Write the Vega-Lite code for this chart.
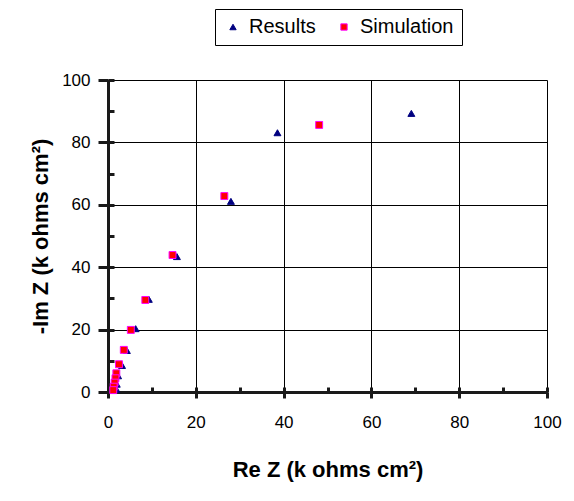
{
  "$schema": "https://vega.github.io/schema/vega-lite/v6.json",
  "width": 439,
  "height": 312,
  "autosize": "none",
  "padding": {"left": 108, "top": 80, "right": 27, "bottom": 109},
  "background": "white",
  "config": {"font": "Liberation Sans", "view": {"stroke": null}},
  "data": {
    "values": [
      {"series": "Results", "re": 69.1, "im": 89.3},
      {"series": "Results", "re": 38.6, "im": 83.1},
      {"series": "Results", "re": 28.0, "im": 61.1},
      {"series": "Results", "re": 15.7, "im": 43.4},
      {"series": "Results", "re": 9.3, "im": 29.7},
      {"series": "Results", "re": 6.3, "im": 20.3},
      {"series": "Results", "re": 4.3, "im": 13.3},
      {"series": "Results", "re": 3.2, "im": 8.5},
      {"series": "Results", "re": 2.3, "im": 5.2},
      {"series": "Results", "re": 2.0, "im": 2.5},
      {"series": "Results", "re": 1.9, "im": 0.9},
      {"series": "Simulation", "re": 48.1, "im": 85.6},
      {"series": "Simulation", "re": 26.5, "im": 62.8},
      {"series": "Simulation", "re": 14.7, "im": 43.9},
      {"series": "Simulation", "re": 8.5, "im": 29.5},
      {"series": "Simulation", "re": 5.2, "im": 19.9},
      {"series": "Simulation", "re": 3.6, "im": 13.5},
      {"series": "Simulation", "re": 2.5, "im": 8.9},
      {"series": "Simulation", "re": 1.9, "im": 6.0},
      {"series": "Simulation", "re": 1.7, "im": 4.4},
      {"series": "Simulation", "re": 1.5, "im": 3.0},
      {"series": "Simulation", "re": 1.3, "im": 1.7},
      {"series": "Simulation", "re": 1.2, "im": 0.6}
    ]
  },
  "resolve": {"axis": {"x": "independent", "y": "independent"}},
  "layer": [
    {
      "mark": {"type": "point", "filled": true, "strokeWidth": 1, "size": 48, "opacity": 1},
      "encoding": {
        "x": {
          "field": "re", "type": "quantitative",
          "scale": {"domain": [0, 100], "nice": false},
          "axis": {
            "orient": "bottom",
            "values": [0, 20, 40, 60, 80, 100],
            "format": "d",
            "grid": true, "gridColor": "#000000", "gridWidth": 1, "gridOpacity": 1,
            "domain": true, "domainColor": "#1a1a1a", "domainWidth": 3, "domainOpacity": 1,
            "ticks": true, "tickColor": "#1a1a1a", "tickWidth": 3, "tickSize": 6, "tickOpacity": 1,
            "labelFontSize": 17, "labelColor": "#000000", "labelPadding": 16, "labelFlush": false,
            "title": "Re Z (k ohms cm²)",
            "titleFontSize": 22, "titleFontWeight": "bold", "titleColor": "#000000",
            "titleY": 67
          }
        },
        "y": {
          "field": "im", "type": "quantitative",
          "scale": {"domain": [0, 100], "nice": false},
          "axis": {
            "orient": "left",
            "values": [0, 20, 40, 60, 80, 100],
            "format": "d",
            "grid": true, "gridColor": "#000000", "gridWidth": 1, "gridOpacity": 1,
            "domain": true, "domainColor": "#1a1a1a", "domainWidth": 3, "domainOpacity": 1,
            "ticks": true, "tickColor": "#1a1a1a", "tickWidth": 3, "tickSize": 10, "tickOpacity": 1,
            "labelFontSize": 17, "labelColor": "#000000", "labelPadding": 8, "labelFlush": false,
            "title": "-Im Z (k ohms cm²)",
            "titleFontSize": 22, "titleFontWeight": "bold", "titleColor": "#000000",
            "titleX": -68, "titleBaseline": "middle"
          }
        },
        "shape": {
          "field": "series", "type": "nominal",
          "scale": {"domain": ["Results", "Simulation"], "range": ["triangle-up", "square"]},
          "legend": {
            "orient": "none", "legendX": 107, "legendY": -71,
            "direction": "horizontal", "title": null,
            "labelFontSize": 20, "labelColor": "#000000", "labelOffset": 6,
            "symbolSize": 40, "symbolStrokeWidth": 1,
            "strokeColor": "#000000", "fillColor": "white",
            "padding": 8, "columnPadding": 18
          }
        },
        "fill": {
          "field": "series", "type": "nominal",
          "scale": {"domain": ["Results", "Simulation"], "range": ["#000080", "#FF0000"]},
          "legend": {
            "orient": "none", "legendX": 107, "legendY": -71,
            "direction": "horizontal", "title": null,
            "labelFontSize": 20, "labelColor": "#000000", "labelOffset": 6,
            "symbolSize": 40, "symbolStrokeWidth": 1,
            "strokeColor": "#000000", "fillColor": "white",
            "padding": 8, "columnPadding": 18
          }
        },
        "stroke": {
          "field": "series", "type": "nominal",
          "scale": {"domain": ["Results", "Simulation"], "range": ["#000080", "#FF00FF"]},
          "legend": {
            "orient": "none", "legendX": 107, "legendY": -71,
            "direction": "horizontal", "title": null,
            "labelFontSize": 20, "labelColor": "#000000", "labelOffset": 6,
            "symbolSize": 40, "symbolStrokeWidth": 1,
            "strokeColor": "#000000", "fillColor": "white",
            "padding": 8, "columnPadding": 18
          }
        }
      }
    },
    {
      "mark": {"type": "point", "opacity": 0},
      "encoding": {
        "x": {
          "field": "re", "type": "quantitative",
          "axis": {
            "orient": "bottom",
            "values": [10, 20, 30, 40, 50, 60, 70, 80, 90, 100],
            "grid": false, "domain": false, "labels": false, "title": null,
            "tickColor": "#1a1a1a", "tickWidth": 3, "tickSize": -5, "tickOpacity": 1
          }
        },
        "y": {
          "field": "im", "type": "quantitative",
          "axis": {
            "orient": "left",
            "values": [10, 20, 30, 40, 50, 60, 70, 80, 90, 100],
            "grid": false, "domain": false, "labels": false, "title": null,
            "tickColor": "#1a1a1a", "tickWidth": 3, "tickSize": -6, "tickOpacity": 1
          }
        }
      }
    }
  ]
}
